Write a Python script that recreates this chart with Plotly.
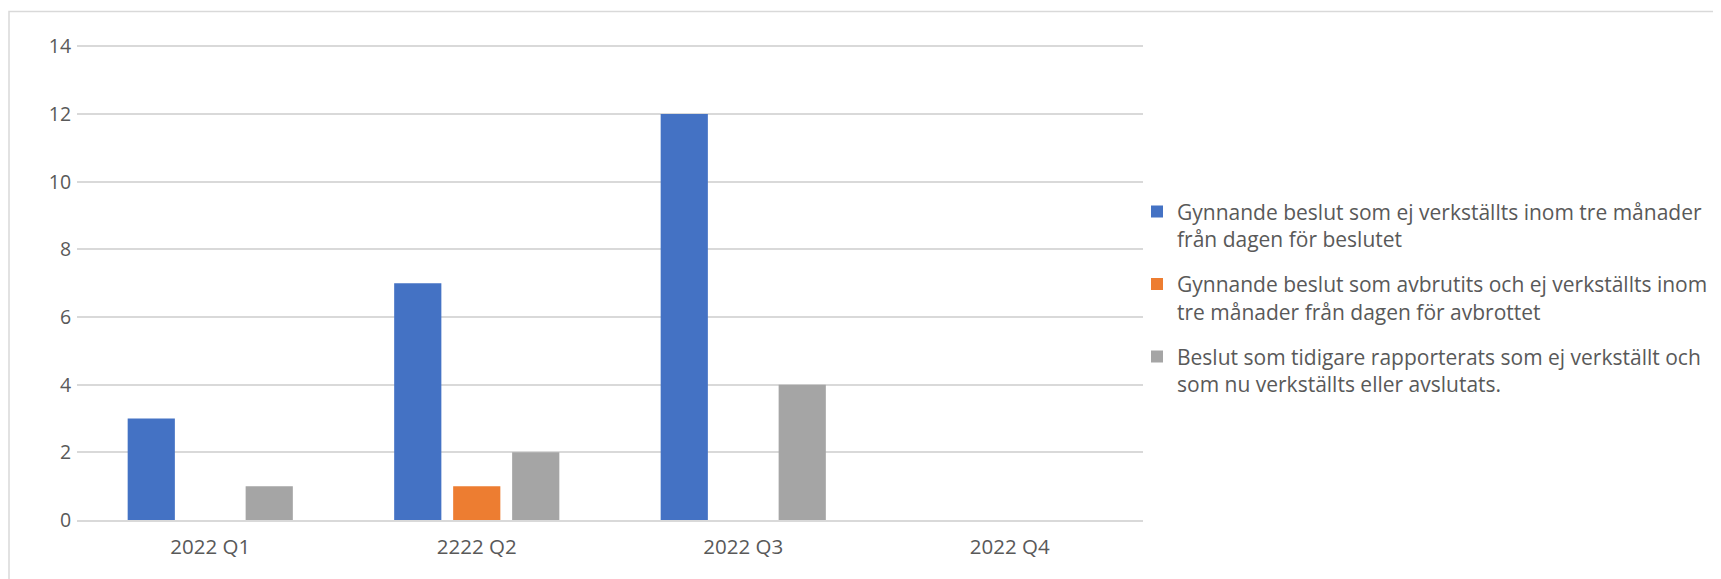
import plotly.graph_objects as go

categories = ["2022 Q1", "2222 Q2", "2022 Q3", "2022 Q4"]
series_names = [
    "Gynnande beslut som ej verkställts inom tre månader<br>från dagen för beslutet",
    "Gynnande beslut som avbrutits och ej verkställts inom<br>tre månader från dagen för avbrottet",
    "Beslut som tidigare rapporterats som ej verkställt och<br>som nu verkställts eller avslutats.",
]
blue_values = [3, 7, 12, 0]
orange_values = [0, 1, 0, 0]
grey_values = [1, 2, 4, 0]
colors = ["#4472C4", "#ED7D31", "#A5A5A5"]
y_ticks = [0, 2, 4, 6, 8, 10, 12, 14]

W, H = 1721, 579
OFF = 8  # page body margin
YMAX = 14.1
unit = (520 - 46) / 14.0
L, R, B = 77 - OFF, 1143 - OFF, 520 - OFF
T = B - YMAX * unit
PW, PH = R - L, B - T

def px(x):
    return (x - OFF - L) / PW

def py(y):
    return (B - (y - OFF)) / PH

font = "'Open Sans', sans-serif"
txt = "#595959"

fig = go.Figure()
for name, vals, col in zip(series_names, [blue_values, orange_values, grey_values], colors):
    fig.add_trace(go.Bar(x=categories, y=vals, name=name, marker=dict(color=col, line=dict(width=0)),
                         legendgroup=name))

fig.update_layout(
    width=W, height=H,
    margin=dict(l=L, r=W - R, t=T, b=H - B, autoexpand=False),
    paper_bgcolor="white", plot_bgcolor="white",
    barmode="group", bargap=0.336, bargroupgap=0.2,
    font=dict(family=font, size=20, color=txt),
    xaxis=dict(showgrid=False, showline=True, linecolor="#D9D9D9", linewidth=2,
               ticks="outside", ticklen=7, tickcolor="rgba(0,0,0,0)", tickfont=dict(size=20.5)),
    yaxis=dict(range=[0, YMAX], tickvals=y_ticks, showgrid=True, gridcolor="#D9D9D9", gridwidth=1.5,
               zeroline=False, showline=False, ticks="outside", ticklen=1,
               tickcolor="rgba(0,0,0,0)", tickfont=dict(size=19.5)),
    legend=dict(x=px(1137), y=py(191), xanchor="left", yanchor="top", valign="top",
                font=dict(size=21, color=txt), tracegroupgap=15, bgcolor="rgba(0,0,0,0)"),
    shapes=[dict(type="rect", xref="paper", yref="paper", x0=px(9), x1=px(1740), y0=py(11), y1=py(600),
                 line=dict(color="#D9D9D9", width=1.5), fillcolor="rgba(0,0,0,0)", layer="below")],
)

fig.write_html("out.html")
